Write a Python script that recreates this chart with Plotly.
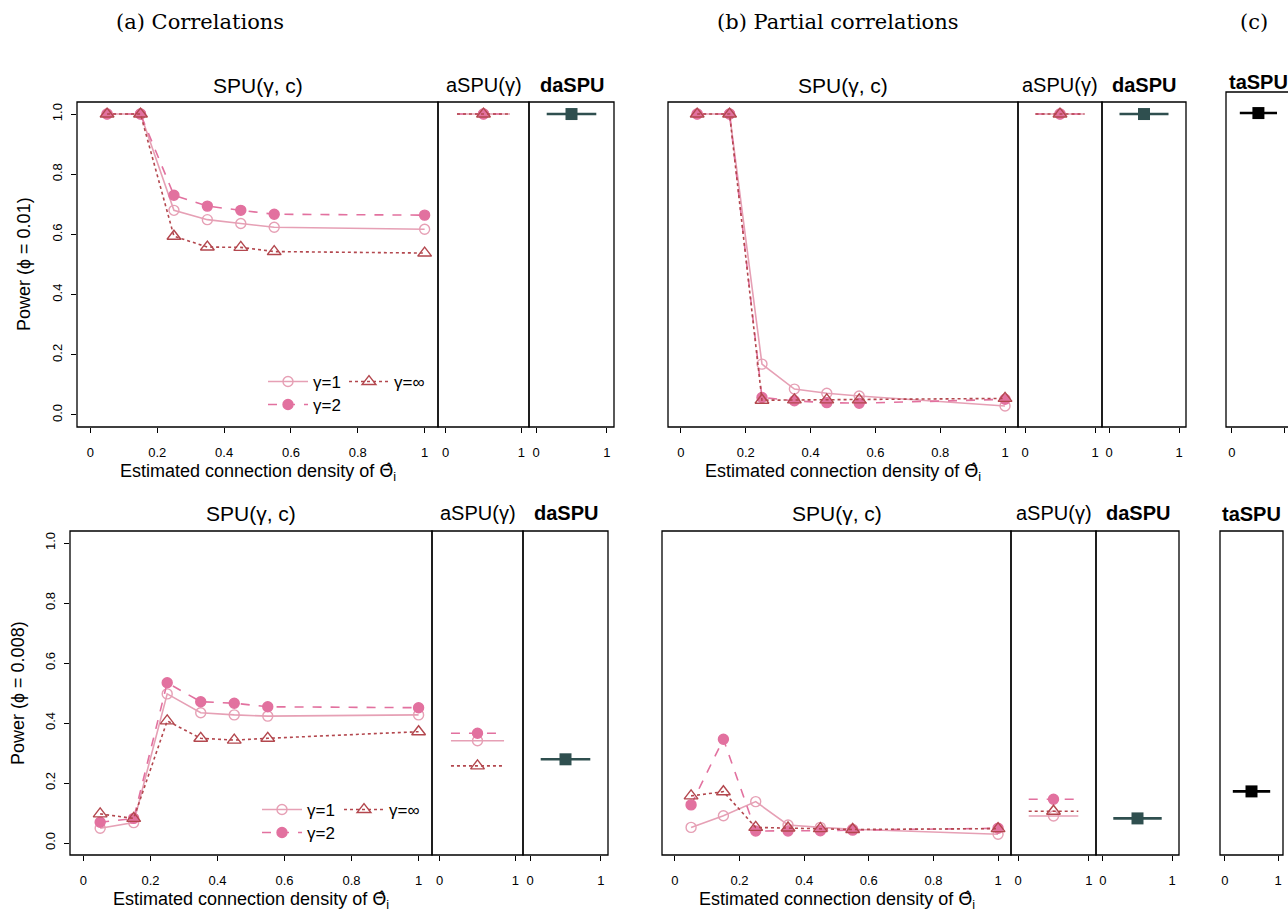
import plotly.graph_objects as go

W, H = 1288, 911

# ---------------- data ----------------
DENSITY = [0.05, 0.15, 0.25, 0.35, 0.45, 0.55, 1.0]
GAMMA_LABELS = ["γ=1", "γ=2", "γ=∞"]

# (a) Correlations, phi = 0.01
A01_G1 = [1.0, 1.0, 0.680, 0.649, 0.636, 0.624, 0.617]
A01_G2 = [1.0, 1.0, 0.730, 0.694, 0.680, 0.667, 0.664]
A01_GINF = [1.0, 1.0, 0.594, 0.558, 0.557, 0.543, 0.538]
A01_ASPU = [1.0, 1.0, 1.0]          # gamma = 1, 2, inf
A01_DASPU = 1.0

# (b) Partial correlations, phi = 0.01
B01_G1 = [1.0, 1.0, 0.169, 0.086, 0.072, 0.063, 0.030]
B01_G2 = [1.0, 1.0, 0.058, 0.047, 0.041, 0.039, 0.052]
B01_GINF = [1.0, 1.0, 0.049, 0.050, 0.050, 0.050, 0.055]
B01_ASPU = [1.0, 1.0, 1.0]
B01_DASPU = 1.0
C01_TASPU = 1.0

# (a) Correlations, phi = 0.008
A008_G1 = [0.049, 0.068, 0.497, 0.434, 0.427, 0.423, 0.427]
A008_G2 = [0.069, 0.082, 0.534, 0.471, 0.466, 0.454, 0.451]
A008_GINF = [0.097, 0.082, 0.407, 0.349, 0.343, 0.349, 0.371]
A008_ASPU = [0.341, 0.366, 0.257]
A008_DASPU = 0.279

# (b) Partial correlations, phi = 0.008
B008_G1 = [0.052, 0.091, 0.138, 0.060, 0.052, 0.046, 0.029]
B008_G2 = [0.127, 0.346, 0.040, 0.040, 0.041, 0.043, 0.049]
B008_GINF = [0.157, 0.171, 0.052, 0.050, 0.048, 0.045, 0.048]
B008_ASPU = [0.090, 0.146, 0.106]
B008_DASPU = 0.082
C008_TASPU = 0.172

SPU_TICKS = [0, 0.2, 0.4, 0.6, 0.8, 1]
SPU_TICKTEXT = ["0", "0.2", "0.4", "0.6", "0.8", "1"]
Y_TICKS = [0, 0.2, 0.4, 0.6, 0.8, 1.0]
Y_TICKTEXT = ["0.0", "0.2", "0.4", "0.6", "0.8", "1.0"]
SUMMARY_X = 0.5
SUMMARY_SEG = [0.15, 0.85]

# ---------------- styles ----------------
FONT = "Liberation Sans, Arial, Helvetica, sans-serif"
SERIF = "DejaVu Serif, Liberation Serif, serif"
C_G1 = "#E6A0B5"
C_G2 = "#E2719F"
C_GINF = "#B3474E"
C_DA = "#2F4F4F"
C_TA = "#000000"
STY = [
    dict(color=C_G1, dash="solid", symbol="circle-open", size=10),
    dict(color=C_G2, dash="dash", symbol="circle", size=10),
    dict(color=C_GINF, dash="dot", symbol="triangle-up-open", size=12),
]

def fx(px):
    return px / W

def fy(py):
    return 1 - py / H

fig = go.Figure()
layout = dict(
    width=W, height=H, margin=dict(l=0, r=0, t=0, b=0),
    plot_bgcolor="white", paper_bgcolor="white",
    font=dict(family=FONT, color="black"),
    showlegend=True,
)
shapes = []
annotations = []

def add_subplot(n, x0, x1, ytop, ybot, xrange, yrange, kind, show_y=False, box_x1=1.0):
    xk = "xaxis" if n == 1 else f"xaxis{n}"
    yk = "yaxis" if n == 1 else f"yaxis{n}"
    xid = "x" if n == 1 else f"x{n}"
    yid = "y" if n == 1 else f"y{n}"
    if kind == "spu":
        tv, tt = SPU_TICKS, SPU_TICKTEXT
    else:
        tv, tt = [0, 1], ["0", "1"]
    layout[xk] = dict(
        domain=[fx(x0), min(fx(x1), 1.0)], range=xrange, anchor=yid,
        tickmode="array", tickvals=tv, ticktext=tt,
        ticks="outside", ticklen=5, tickwidth=1, tickcolor="black",
        showgrid=False, zeroline=False, showline=False,
        tickfont=dict(size=13, family=FONT), ticklabelstandoff=8,
        fixedrange=True,
    )
    ya = dict(
        domain=[fy(ybot), fy(ytop)], range=yrange, anchor=xid,
        showgrid=False, zeroline=False, showline=False, fixedrange=True,
    )
    if show_y:
        ya.update(tickmode="array", tickvals=Y_TICKS, ticktext=Y_TICKTEXT,
                  ticks="outside", ticklen=5, tickwidth=1, tickcolor="black",
                  tickangle=-90, tickfont=dict(size=13, family=FONT),
                  ticklabelstandoff=4)
    else:
        ya.update(showticklabels=False, ticks="")
    layout[yk] = ya
    shapes.append(dict(type="rect", xref=f"{xid} domain", yref=f"{yid} domain",
                       x0=0, x1=box_x1, y0=0, y1=1,
                       line=dict(color="black", width=1.3), layer="above"))
    return xid, yid

def title(text, x0, x1, yc, bold=False, size=20):
    annotations.append(dict(text=f"<b>{text}</b>" if bold else text,
                            xref="paper", yref="paper", x=fx((x0 + x1) / 2), y=fy(yc),
                            xanchor="center", yanchor="middle", showarrow=False,
                            font=dict(size=size, family=FONT, color="black")))

def spu_traces(xid, yid, series, legends=None):
    for i, ys in enumerate(series):
        s = STY[i]
        fig.add_trace(go.Scatter(
            x=DENSITY, y=ys, xaxis=xid, yaxis=yid, mode="lines+markers",
            name=GAMMA_LABELS[i],
            line=dict(color=s["color"], dash=s["dash"], width=1.6),
            marker=dict(symbol=s["symbol"], size=s["size"], color=s["color"],
                        line=dict(color=s["color"], width=1.4)),
            showlegend=legends is not None,
            legend=legends[i] if legends is not None else None,
            hoverinfo="skip",
        ))

def aspu_traces(xid, yid, vals):
    for i, v in enumerate(vals):
        s = STY[i]
        fig.add_trace(go.Scatter(
            x=SUMMARY_SEG, y=[v, v], xaxis=xid, yaxis=yid, mode="lines",
            line=dict(color=s["color"], dash=s["dash"], width=1.6),
            showlegend=False, hoverinfo="skip"))
        fig.add_trace(go.Scatter(
            x=[SUMMARY_X], y=[v], xaxis=xid, yaxis=yid, mode="markers",
            marker=dict(symbol=s["symbol"], size=s["size"], color=s["color"],
                        line=dict(color=s["color"], width=1.4)),
            showlegend=False, hoverinfo="skip"))

def single_trace(xid, yid, v, color):
    fig.add_trace(go.Scatter(
        x=SUMMARY_SEG, y=[v, v], xaxis=xid, yaxis=yid, mode="lines",
        line=dict(color=color, width=2.6), showlegend=False, hoverinfo="skip"))
    fig.add_trace(go.Scatter(
        x=[SUMMARY_X], y=[v], xaxis=xid, yaxis=yid, mode="markers",
        marker=dict(symbol="square", size=12, color=color),
        showlegend=False, hoverinfo="skip"))

YR = [-0.04, 1.04]
SR = [-0.1, 1.1]
XR_SPU = [-0.04, 1.04]

# ---------- top row ----------
TT, TB = 102, 427
x, y = add_subplot(1, 77, 438, TT, TB, XR_SPU, YR, "spu", show_y=True)
spu_traces(x, y, [A01_G1, A01_G2, A01_GINF], legends=["legend", "legend3", "legend2"])
title("SPU(γ, c)", 77, 438, 85, size=21)
x, y = add_subplot(2, 438, 529, TT, TB, SR, YR, "s")
aspu_traces(x, y, A01_ASPU)
title("aSPU(γ)", 438, 529, 85)
x, y = add_subplot(3, 529, 614, TT, TB, SR, YR, "s")
single_trace(x, y, A01_DASPU, C_DA)
title("daSPU", 529, 614, 85, bold=True)

x, y = add_subplot(4, 668, 1018, TT, TB, XR_SPU, YR, "spu")
spu_traces(x, y, [B01_G1, B01_G2, B01_GINF])
title("SPU(γ, c)", 668, 1018, 85, size=21)
x, y = add_subplot(5, 1018, 1102, TT, TB, SR, YR, "s")
aspu_traces(x, y, B01_ASPU)
title("aSPU(γ)", 1018, 1102, 85)
x, y = add_subplot(6, 1102, 1186, TT, TB, SR, YR, "s")
single_trace(x, y, B01_DASPU, C_DA)
title("daSPU", 1102, 1186, 85, bold=True)

x, y = add_subplot(7, 1226, 1288, 92, TB, [-0.11, 1.057], [-0.043, 1.07], "s", box_x1=1.2)
single_trace(x, y, C01_TASPU, C_TA)
title("taSPU", 1229, 1287, 82, bold=True)

# ---------- bottom row ----------
BT, BB = 531, 855
x, y = add_subplot(8, 70, 432, BT, BB, XR_SPU, YR, "spu", show_y=True)
spu_traces(x, y, [A008_G1, A008_G2, A008_GINF], legends=["legend4", "legend6", "legend5"])
title("SPU(γ, c)", 70, 432, 513, size=21)
x, y = add_subplot(9, 432, 523, BT, BB, SR, YR, "s")
aspu_traces(x, y, A008_ASPU)
title("aSPU(γ)", 432, 523, 513)
x, y = add_subplot(10, 523, 608, BT, BB, SR, YR, "s")
single_trace(x, y, A008_DASPU, C_DA)
title("daSPU", 523, 608, 513, bold=True)

x, y = add_subplot(11, 662, 1011, BT, BB, XR_SPU, YR, "spu")
spu_traces(x, y, [B008_G1, B008_G2, B008_GINF])
title("SPU(γ, c)", 662, 1011, 513, size=21)
x, y = add_subplot(12, 1011, 1096, BT, BB, SR, YR, "s")
aspu_traces(x, y, B008_ASPU)
title("aSPU(γ)", 1011, 1096, 513)
x, y = add_subplot(13, 1096, 1179, BT, BB, SR, YR, "s")
single_trace(x, y, B008_DASPU, C_DA)
title("daSPU", 1096, 1179, 513, bold=True)

x, y = add_subplot(14, 1220, 1283, BT, BB, [-0.09, 1.09], YR, "s")
single_trace(x, y, C008_TASPU, C_TA)
title("taSPU", 1220, 1283, 514, bold=True)

# ---------- axis titles ----------
XTITLE = ("Estimated connection density of "
          "<span style='font-family:DejaVu Sans'>Θ\u0302</span><sub>i</sub>")
for (x0, x1, yc) in [(77, 438, 472), (668, 1018, 472), (70, 432, 900), (662, 1011, 900)]:
    annotations.append(dict(text=XTITLE, xref="paper", yref="paper",
                            x=fx((x0 + x1) / 2), y=fy(yc), xanchor="center", yanchor="middle",
                            showarrow=False, font=dict(size=18, family=FONT, color="black")))
for (xc, yc, t) in [(24, 264, "Power (ϕ = 0.01)"), (18, 693, "Power (ϕ = 0.008)")]:
    annotations.append(dict(text=t, xref="paper", yref="paper", x=fx(xc), y=fy(yc),
                            xanchor="center", yanchor="middle", textangle=-90,
                            showarrow=False, font=dict(size=18, family=FONT, color="black")))

# ---------- panel titles ----------
for (xc, t) in [(200, "(a) Correlations"), (838, "(b) Partial correlations"), (1254, "(c)")]:
    annotations.append(dict(text=t, xref="paper", yref="paper", x=fx(xc), y=fy(22),
                            xanchor="center", yanchor="middle", showarrow=False,
                            font=dict(size=21, family=SERIF, color="black")))

# ---------- legends ----------
def leg(xpx, ypx):
    return dict(x=fx(xpx), y=fy(ypx), xanchor="left", yanchor="middle",
                xref="paper", yref="paper", bgcolor="rgba(0,0,0,0)", borderwidth=0,
                font=dict(size=17, family=FONT, color="black"), itemwidth=40,
                orientation="v")

layout["legend"] = leg(263, 382)
layout["legend2"] = leg(344, 382)
layout["legend3"] = leg(263, 405)
layout["legend4"] = leg(257, 810)
layout["legend5"] = leg(339, 810)
layout["legend6"] = leg(257, 833)

layout["shapes"] = shapes
layout["annotations"] = annotations
fig.update_layout(**layout)
fig.write_html("out.html")
